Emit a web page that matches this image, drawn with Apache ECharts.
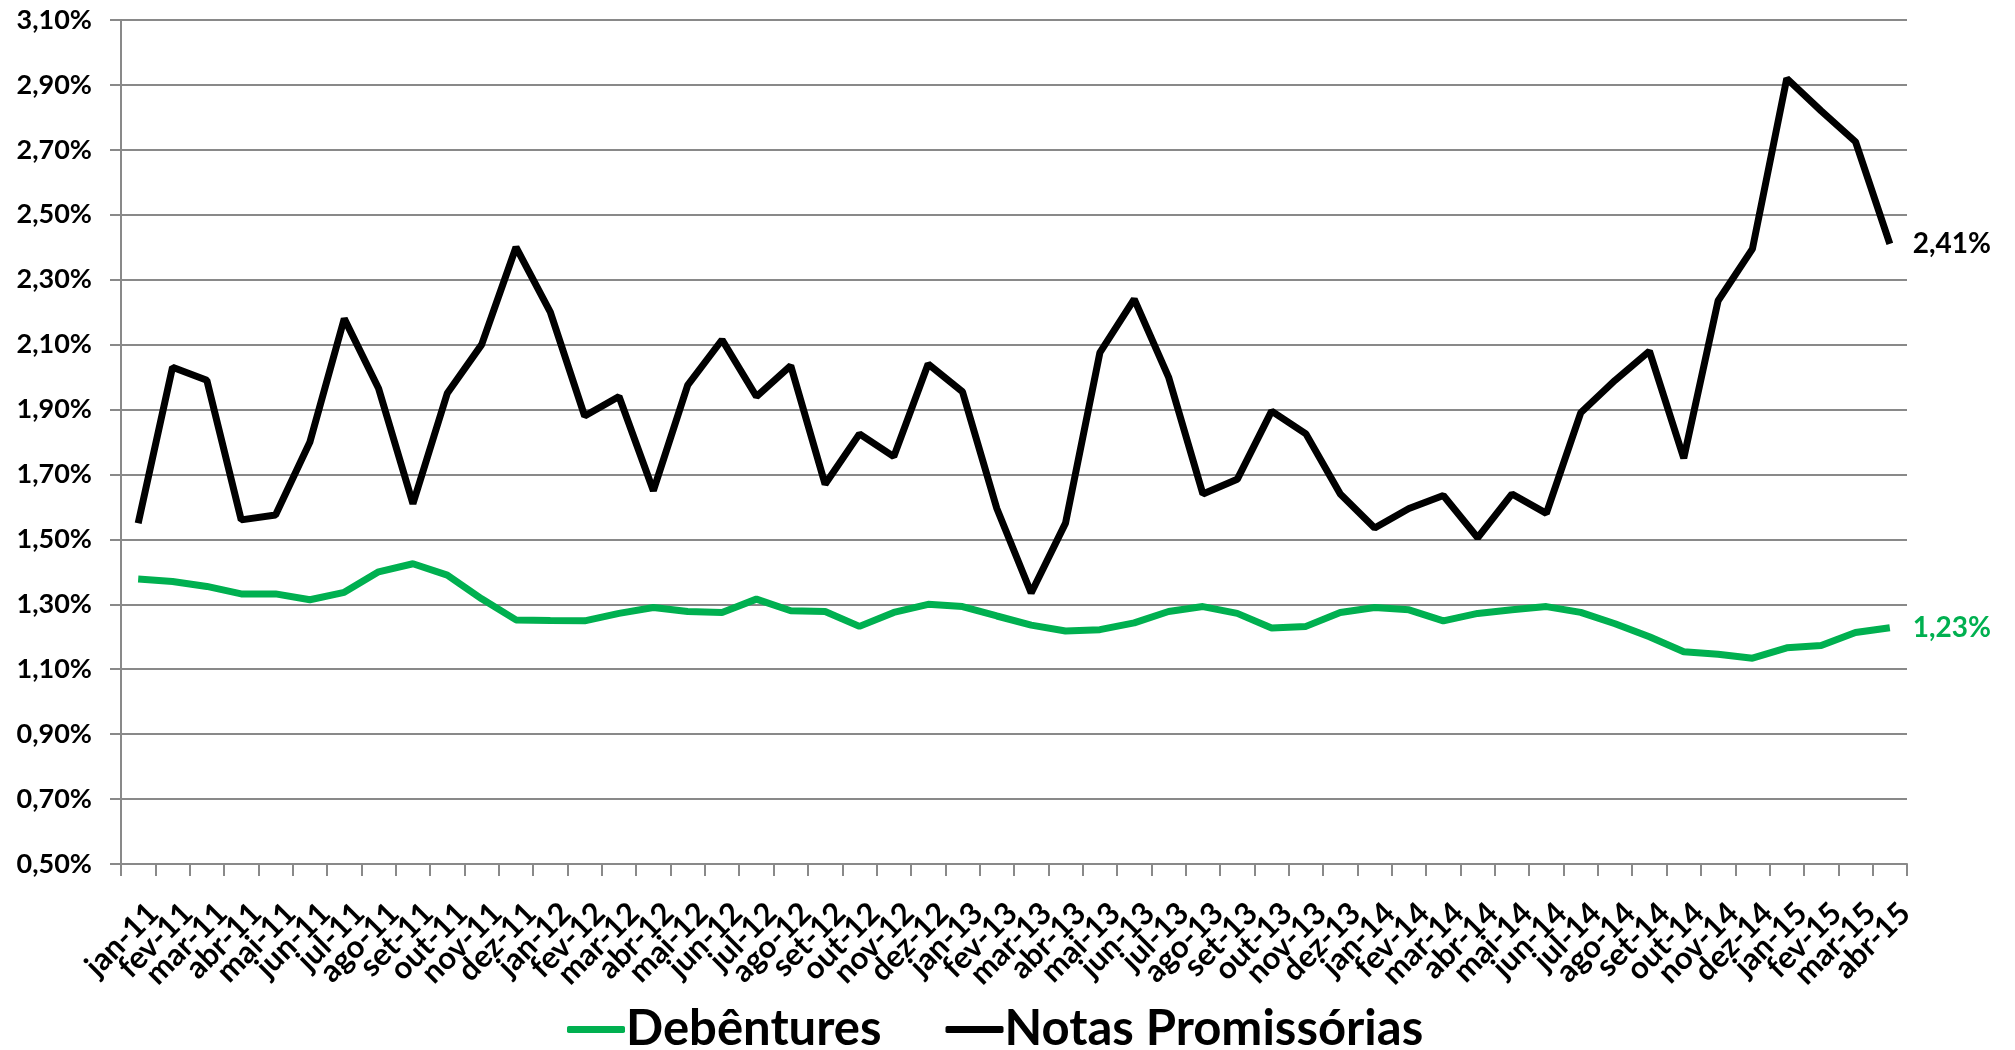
<!DOCTYPE html>
<html>
<head>
<meta charset="utf-8">
<script src="https://cdn.jsdelivr.net/npm/echarts@6/dist/echarts.min.js"></script>
<style>
html,body{margin:0;padding:0;background:#fff;}
#chart{width:2015px;height:1050px;}
</style>
</head>
<body>
<div id="chart"></div>
<script>
const categories = [
  'jan-11','fev-11','mar-11','abr-11','mai-11','jun-11','jul-11','ago-11','set-11','out-11','nov-11','dez-11',
  'jan-12','fev-12','mar-12','abr-12','mai-12','jun-12','jul-12','ago-12','set-12','out-12','nov-12','dez-12',
  'jan-13','fev-13','mar-13','abr-13','mai-13','jun-13','jul-13','ago-13','set-13','out-13','nov-13','dez-13',
  'jan-14','fev-14','mar-14','abr-14','mai-14','jun-14','jul-14','ago-14','set-14','out-14','nov-14','dez-14',
  'jan-15','fev-15','mar-15','abr-15'
];
const seriesNames = ['Debêntures', 'Notas Promissórias'];
const debentures = [
  1.378, 1.370, 1.355, 1.332, 1.332, 1.314, 1.337, 1.400, 1.425, 1.390, 1.317, 1.252,
  1.250, 1.249, 1.272, 1.290, 1.278, 1.275, 1.316, 1.280, 1.278, 1.232, 1.275, 1.300,
  1.293, 1.264, 1.236, 1.218, 1.222, 1.243, 1.278, 1.293, 1.272, 1.227, 1.232, 1.275,
  1.290, 1.283, 1.249, 1.272, 1.283, 1.293, 1.275, 1.240, 1.200, 1.154, 1.146, 1.134,
  1.166, 1.173, 1.213, 1.228
];
const notasPromissorias = [
  1.550, 2.030, 1.990, 1.560, 1.575, 1.800, 2.180, 1.965, 1.610, 1.950, 2.100, 2.400,
  2.200, 1.880, 1.940, 1.650, 1.975, 2.115, 1.940, 2.035, 1.670, 1.825, 1.755, 2.040,
  1.955, 1.595, 1.335, 1.550, 2.075, 2.240, 2.000, 1.640, 1.685, 1.895, 1.825, 1.640,
  1.535, 1.595, 1.635, 1.505, 1.640, 1.580, 1.890, 1.990, 2.080, 1.750, 2.235, 2.395,
  2.920, 2.820, 2.725, 2.410
];
const yMin = 0.5, yMax = 3.1, yStep = 0.2;

const FONT = 'Lato';
const pct = v => v.toFixed(2).replace('.', ',') + '%';
const gray = '#898989';

const chart = echarts.init(document.getElementById('chart'), null, {renderer: 'canvas'});
chart.setOption({
  animation: false,
  backgroundColor: '#ffffff',
  textStyle: {fontFamily: FONT},
  grid: {left: 121, right: 108, top: 20, bottom: 186, containLabel: false},
  legend: {
    top: 1000,
    left: 562,
    itemWidth: 58,
    itemHeight: 7,
    itemGap: 64,
    icon: 'roundRect',
    textStyle: {fontFamily: FONT, fontSize: 49, fontWeight: 'bold', color: '#000', padding: [0, 0, 0, -4]},
    data: seriesNames
  },
  xAxis: {
    type: 'category',
    data: categories,
    boundaryGap: true,
    axisLine: {lineStyle: {color: gray, width: 2}},
    axisTick: {show: true, length: 12, lineStyle: {color: gray, width: 2}, alignWithLabel: false},
    axisLabel: {
      interval: 0,
      rotate: 45,
      align: 'right',
      verticalAlign: 'top',
      margin: 29,
      padding: [6, 0, 0, 0],
      fontFamily: FONT,
      fontSize: 31,
      fontWeight: 'bold',
      color: '#000'
    },
    splitLine: {show: false}
  },
  yAxis: {
    type: 'value',
    min: yMin,
    max: yMax,
    interval: yStep,
    axisLine: {show: true, lineStyle: {color: gray, width: 2}},
    axisTick: {show: true, length: 11, lineStyle: {color: gray, width: 2}},
    axisLabel: {
      margin: 29,
      fontFamily: FONT,
      fontSize: 27,
      fontWeight: 'bold',
      color: '#000',
      formatter: v => pct(v)
    },
    splitLine: {show: true, lineStyle: {color: gray, width: 2}}
  },
  series: [
    {
      name: seriesNames[0],
      type: 'line',
      data: debentures,
      symbol: 'none',
      color: '#00B050',
      lineStyle: {color: '#00B050', width: 7},
      endLabel: {
        show: true,
        distance: 23,
        fontFamily: FONT,
        fontSize: 28,
        fontWeight: 'bold',
        color: '#00B050',
        formatter: p => pct(p.value)
      }
    },
    {
      name: seriesNames[1],
      type: 'line',
      data: notasPromissorias,
      symbol: 'none',
      color: '#000000',
      lineStyle: {color: '#000000', width: 7},
      endLabel: {
        show: true,
        distance: 23,
        fontFamily: FONT,
        fontSize: 28,
        fontWeight: 'bold',
        color: '#000000',
        formatter: p => pct(p.value)
      }
    }
  ]
});
</script>
</body>
</html>
